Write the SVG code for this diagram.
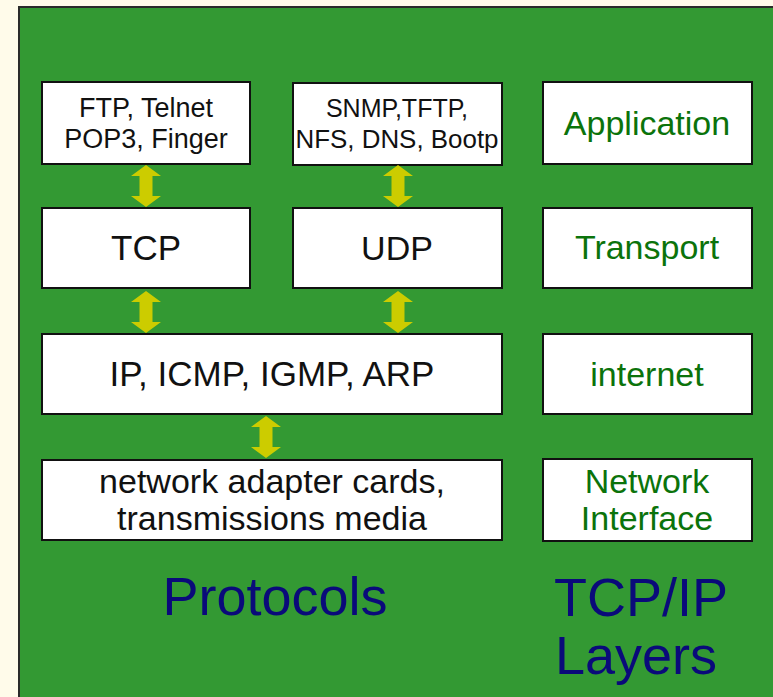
<svg xmlns="http://www.w3.org/2000/svg" xmlns:xlink="http://www.w3.org/1999/xlink" width="773" height="697" viewBox="0 0 773 697">
  <style>
    .box { fill: #ffffff; stroke: #111111; stroke-width: 2; }
    .proto { font-family: "Liberation Sans", Arial, sans-serif; fill: #111111; text-anchor: middle; }
    .layer { font-family: "Liberation Sans", Arial, sans-serif; fill: #0b730b; text-anchor: middle; font-size: 34px; }
    .title { font-family: "Liberation Sans", Arial, sans-serif; fill: #0a0a7a; text-anchor: middle; font-size: 54px; }
    .arrow { fill: #cccc00; }
  </style>
  <defs>
    <!-- vertical double-headed arrow, 42px tall, centred on x=0 -->
    <path id="dblArrow" d="M0,0 L15,11 L6.5,11 L6.5,31 L15,31 L0,42 L-15,31 L-6.5,31 L-6.5,11 L-15,11 Z"/>
  </defs>

  <!-- page and green panel -->
  <rect x="0" y="0" width="773" height="697" fill="#fffbea"/>
  <rect x="19" y="7" width="760" height="700" fill="#339933" stroke="#2a2a2a" stroke-width="2"/>

  <!-- protocol column -->
  <g id="ftp">
    <rect class="box" x="42" y="82" width="208" height="82"/>
    <text class="proto" font-size="27" x="146" y="117">FTP, Telnet</text>
    <text class="proto" font-size="27" x="146" y="148">POP3, Finger</text>
  </g>
  <g id="snmp">
    <rect class="box" x="293" y="83" width="209" height="82"/>
    <text class="proto" font-size="25" x="397" y="117">SNMP,TFTP,</text>
    <text class="proto" font-size="25" x="397" y="148" textLength="203" lengthAdjust="spacingAndGlyphs">NFS, DNS, Bootp</text>
  </g>
  <g id="tcp">
    <rect class="box" x="42" y="208" width="208" height="80"/>
    <text class="proto" font-size="35" x="146" y="260">TCP</text>
  </g>
  <g id="udp">
    <rect class="box" x="293" y="208" width="209" height="80"/>
    <text class="proto" font-size="34" x="397" y="260">UDP</text>
  </g>
  <g id="ip">
    <rect class="box" x="42" y="334" width="460" height="80"/>
    <text class="proto" font-size="35" x="272" y="386">IP, ICMP, IGMP, ARP</text>
  </g>
  <g id="media">
    <rect class="box" x="42" y="460" width="460" height="80"/>
    <text class="proto" font-size="34" x="272" y="493">network adapter cards,</text>
    <text class="proto" font-size="34" x="272" y="530">transmissions media</text>
  </g>

  <!-- layer column -->
  <g id="application">
    <rect class="box" x="543" y="82" width="209" height="82"/>
    <text class="layer" x="647" y="135">Application</text>
  </g>
  <g id="transport">
    <rect class="box" x="543" y="208" width="209" height="80"/>
    <text class="layer" x="647" y="259">Transport</text>
  </g>
  <g id="internet">
    <rect class="box" x="543" y="334" width="209" height="80"/>
    <text class="layer" x="647" y="386">internet</text>
  </g>
  <g id="network-interface">
    <rect class="box" x="543" y="459" width="209" height="82"/>
    <text class="layer" x="647" y="493">Network</text>
    <text class="layer" x="647" y="530">Interface</text>
  </g>

  <!-- connectors -->
  <g id="connectors" class="arrow">
    <use xlink:href="#dblArrow" transform="translate(146,165)"/>
    <use xlink:href="#dblArrow" transform="translate(398,165)"/>
    <use xlink:href="#dblArrow" transform="translate(146,291)"/>
    <use xlink:href="#dblArrow" transform="translate(398,291)"/>
    <use xlink:href="#dblArrow" transform="translate(266,416)"/>
  </g>

  <!-- column captions -->
  <g id="captions">
    <text class="title" x="275" y="615">Protocols</text>
    <text class="title" x="641" y="616">TCP/IP</text>
    <text class="title" x="636" y="674">Layers</text>
  </g>
</svg>
